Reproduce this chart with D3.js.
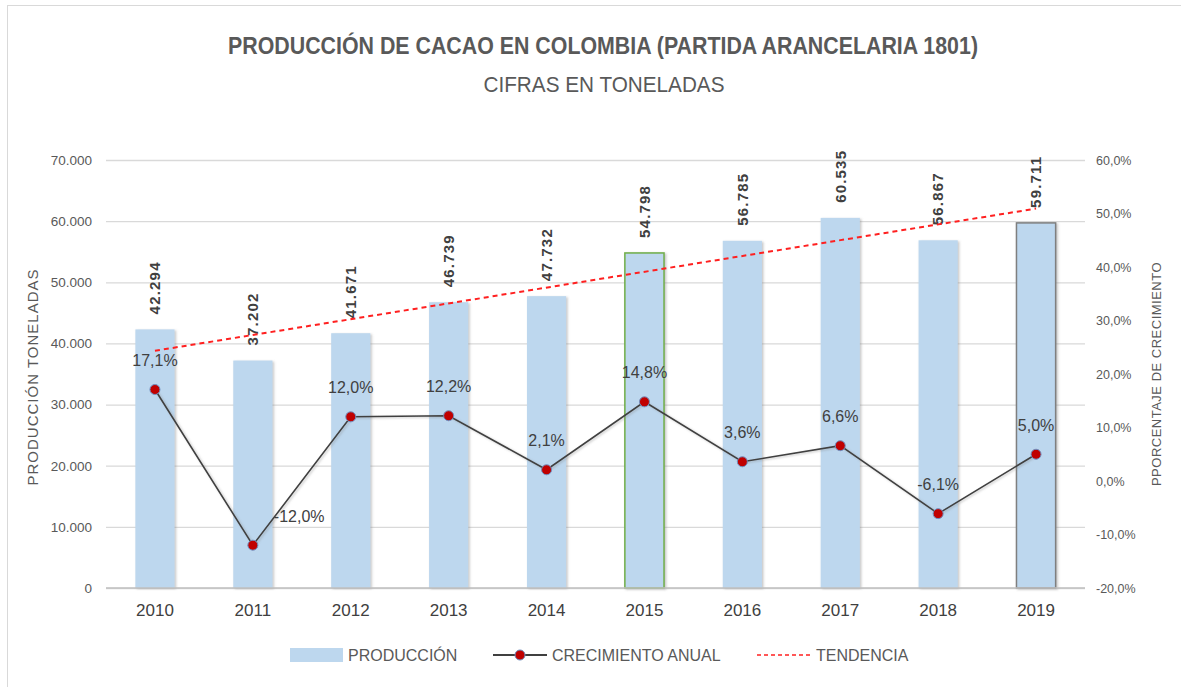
<!DOCTYPE html>
<html>
<head>
<meta charset="utf-8">
<script src="https://cdn.jsdelivr.net/npm/d3@7"></script>
<style>
  body { margin: 0; background: #fff; }
  text { font-family: "Liberation Sans", Arial, sans-serif; }
</style>
</head>
<body>
<div id="chart"></div>
<script>
var years = ['2010', '2011', '2012', '2013', '2014', '2015', '2016', '2017', '2018', '2019'];
var produccion = [42294, 37202, 41671, 46739, 47732, 54798, 56785, 60535, 56867, 59711];
var crecimiento = [17.1, -12.0, 12.0, 12.2, 2.1, 14.8, 3.6, 6.6, -6.1, 5.0];
var tendenciaYears = ['2010', '2019'];
var tendencia = [38800, 62050];
var leftTicks = [0, 10000, 20000, 30000, 40000, 50000, 60000, 70000];
var rightTicks = [-20, -10, 0, 10, 20, 30, 40, 50, 60];

(function(d3) {
  'use strict';
  var width = 1181;
  var height = 687;
  var plotLeft = 106, plotRight = 1085, plotTop = 160, plotBottom = 588;

  var es = d3.formatLocale({
    decimal: ',', thousands: '.', grouping: [3], currency: ['', ''], minus: '-'
  });
  var fmtNum = es.format(',d');
  var fmtPct = es.format('.1f');

  var svg = d3.select('#chart')
    .append('svg')
    .attr('width', width)
    .attr('height', height);

  var defs = svg.append('defs');
  var shadow = defs.append('filter')
    .attr('id', 'shadow')
    .attr('x', '-20%').attr('y', '-20%')
    .attr('width', '140%').attr('height', '140%');
  shadow.append('feDropShadow')
    .attr('dx', 1.5).attr('dy', 1)
    .attr('stdDeviation', 1)
    .attr('flood-color', '#808080')
    .attr('flood-opacity', 0.45);

  // marco
  svg.append('rect')
    .attr('x', 7.5).attr('y', 5.5)
    .attr('width', width).attr('height', height)
    .attr('fill', 'none')
    .attr('stroke', '#d9d9d9');

  var x = d3.scaleBand()
    .domain(years)
    .range([plotLeft, plotRight])
    .paddingInner(0.6)
    .paddingOuter(0.3);
  var yL = d3.scaleLinear().domain([0, 70000]).range([plotBottom, plotTop]);
  var yR = d3.scaleLinear().domain([-20, 60]).range([plotBottom, plotTop]);
  var cx = function(yr) { return x(yr) + x.bandwidth() / 2; };

  // titulos
  svg.append('text')
    .attr('x', 603).attr('y', 54)
    .attr('text-anchor', 'middle')
    .attr('font-size', 24)
    .attr('font-weight', 'bold')
    .attr('fill', '#595959')
    .attr('textLength', 750)
    .attr('lengthAdjust', 'spacingAndGlyphs')
    .text('PRODUCCIÓN DE CACAO EN COLOMBIA (PARTIDA ARANCELARIA 1801)');
  svg.append('text')
    .attr('x', 604).attr('y', 92)
    .attr('text-anchor', 'middle')
    .attr('font-size', 22)
    .attr('fill', '#595959')
    .attr('textLength', 241)
    .attr('lengthAdjust', 'spacingAndGlyphs')
    .text('CIFRAS EN TONELADAS');

  // rejilla
  svg.append('g')
    .attr('transform', 'translate(' + plotLeft + ',0)')
    .call(d3.axisLeft(yL).tickValues(leftTicks).tickSize(-(plotRight - plotLeft)).tickFormat(''))
    .call(function(g) { g.select('.domain').remove(); })
    .selectAll('line')
    .attr('stroke', '#d9d9d9')
    .attr('stroke-width', 1.3);

  // eje izquierdo
  svg.append('g')
    .attr('transform', 'translate(' + (plotLeft - 14) + ',0)')
    .call(d3.axisLeft(yL).tickValues(leftTicks).tickSize(0).tickPadding(0)
      .tickFormat(function(d) { return fmtNum(d); }))
    .call(function(g) { g.select('.domain').remove(); })
    .selectAll('text')
    .attr('font-size', 13.5)
    .attr('fill', '#595959');

  // eje derecho
  svg.append('g')
    .attr('transform', 'translate(' + (plotRight + 11) + ',0)')
    .call(d3.axisRight(yR).tickValues(rightTicks).tickSize(0).tickPadding(0)
      .tickFormat(function(d) { return fmtPct(d) + '%'; }))
    .call(function(g) { g.select('.domain').remove(); })
    .selectAll('text')
    .attr('font-size', 12.5)
    .attr('fill', '#595959');

  // titulos de ejes
  svg.append('text')
    .attr('transform', 'translate(38,' + ((plotTop + plotBottom) / 2 + 3) + ') rotate(-90)')
    .attr('text-anchor', 'middle')
    .attr('font-size', 15)
    .attr('fill', '#595959')
    .attr('letter-spacing', 1)
    .text('PRODUCCIÓN TONELADAS');
  svg.append('text')
    .attr('transform', 'translate(1161,' + ((plotTop + plotBottom) / 2) + ') rotate(-90)')
    .attr('text-anchor', 'middle')
    .attr('font-size', 13)
    .attr('fill', '#595959')
    .attr('letter-spacing', 0.5)
    .text('PPORCENTAJE DE CRECIMIENTO');

  // barras
  svg.append('g')
    .selectAll('rect')
    .data(produccion)
    .enter()
    .append('rect')
    .attr('x', function(d, i) { return x(years[i]); })
    .attr('y', function(d) { return yL(d); })
    .attr('width', x.bandwidth())
    .attr('height', function(d) { return yL(0) - yL(d); })
    .attr('fill', '#bdd7ee')
    .attr('stroke', function(d, i) {
      if (years[i] === '2015') return '#70ad47';
      if (years[i] === '2019') return '#7f7f7f';
      return 'none';
    })
    .attr('stroke-width', 1.5)
    .attr('filter', 'url(#shadow)');

  // linea base
  svg.append('line')
    .attr('x1', plotLeft).attr('x2', plotRight)
    .attr('y1', yL(0)).attr('y2', yL(0))
    .attr('stroke', '#bfbfbf')
    .attr('stroke-width', 1.3);

  // etiquetas de barras
  svg.append('g')
    .selectAll('text')
    .data(produccion)
    .enter()
    .append('text')
    .attr('transform', function(d, i) {
      return 'translate(' + cx(years[i]) + ',' + (yL(d) - 15) + ') rotate(-90)';
    })
    .attr('dy', '0.35em')
    .attr('font-family', '"DejaVu Sans", sans-serif')
    .attr('font-size', 15)
    .attr('font-weight', 'bold')
    .attr('letter-spacing', 1.2)
    .attr('fill', '#404040')
    .text(function(d) { return fmtNum(d); });

  // tendencia
  var trendLine = d3.line()
    .x(function(d, i) { return cx(tendenciaYears[i]); })
    .y(function(d) { return yL(d); });
  svg.append('path')
    .datum(tendencia)
    .attr('d', trendLine)
    .attr('fill', 'none')
    .attr('stroke', '#ff2020')
    .attr('stroke-width', 2)
    .attr('stroke-dasharray', '5,4');

  // crecimiento anual
  var growthLine = d3.line()
    .x(function(d, i) { return cx(years[i]); })
    .y(function(d) { return yR(d); });
  svg.append('path')
    .datum(crecimiento)
    .attr('d', growthLine)
    .attr('fill', 'none')
    .attr('stroke', '#404040')
    .attr('stroke-width', 1.6)
    .attr('filter', 'url(#shadow)');

  svg.append('g')
    .selectAll('circle')
    .data(crecimiento)
    .enter()
    .append('circle')
    .attr('cx', function(d, i) { return cx(years[i]); })
    .attr('cy', function(d) { return yR(d); })
    .attr('r', 5)
    .attr('fill', '#c00000')
    .attr('stroke', '#6f8fc0')
    .attr('stroke-width', 1);

  svg.append('g')
    .selectAll('text')
    .data(crecimiento)
    .enter()
    .append('text')
    .attr('x', function(d, i) { return cx(years[i]) + (i === 1 ? 21 : 0); })
    .attr('y', function(d) { return yR(d) - 29; })
    .attr('dy', '0.35em')
    .attr('text-anchor', function(d, i) { return i === 1 ? 'start' : 'middle'; })
    .attr('font-size', 16)
    .attr('fill', '#404040')
    .text(function(d) { return fmtPct(d) + '%'; });

  // eje x
  svg.append('g')
    .attr('transform', 'translate(0,' + (plotBottom + 16) + ')')
    .call(d3.axisBottom(x).tickSize(0).tickPadding(0))
    .call(function(g) { g.select('.domain').remove(); })
    .selectAll('text')
    .attr('font-size', 17)
    .attr('fill', '#404040');

  // leyenda
  var legend = svg.append('g').attr('transform', 'translate(0,655)');
  legend.append('rect')
    .attr('x', 290).attr('y', -7)
    .attr('width', 53).attr('height', 14)
    .attr('fill', '#bdd7ee');
  legend.append('line')
    .attr('x1', 493).attr('x2', 547)
    .attr('stroke', '#404040').attr('stroke-width', 2);
  legend.append('circle')
    .attr('cx', 520).attr('r', 5)
    .attr('fill', '#c00000').attr('stroke', '#6f8fc0');
  legend.append('line')
    .attr('x1', 757).attr('x2', 810)
    .attr('stroke', '#ff2020').attr('stroke-width', 1.6)
    .attr('stroke-dasharray', '4,3');
  var legendItems = [['PRODUCCIÓN', 348], ['CRECIMIENTO ANUAL', 552], ['TENDENCIA', 816]];
  legend.selectAll('.legend-text')
    .data(legendItems)
    .enter()
    .append('text')
    .attr('class', 'legend-text')
    .attr('x', function(d) { return d[1]; })
    .attr('dy', '0.35em')
    .attr('font-size', 16)
    .attr('fill', '#595959')
    .text(function(d) { return d[0]; });
})(window.d3);
</script>
</body>
</html>
